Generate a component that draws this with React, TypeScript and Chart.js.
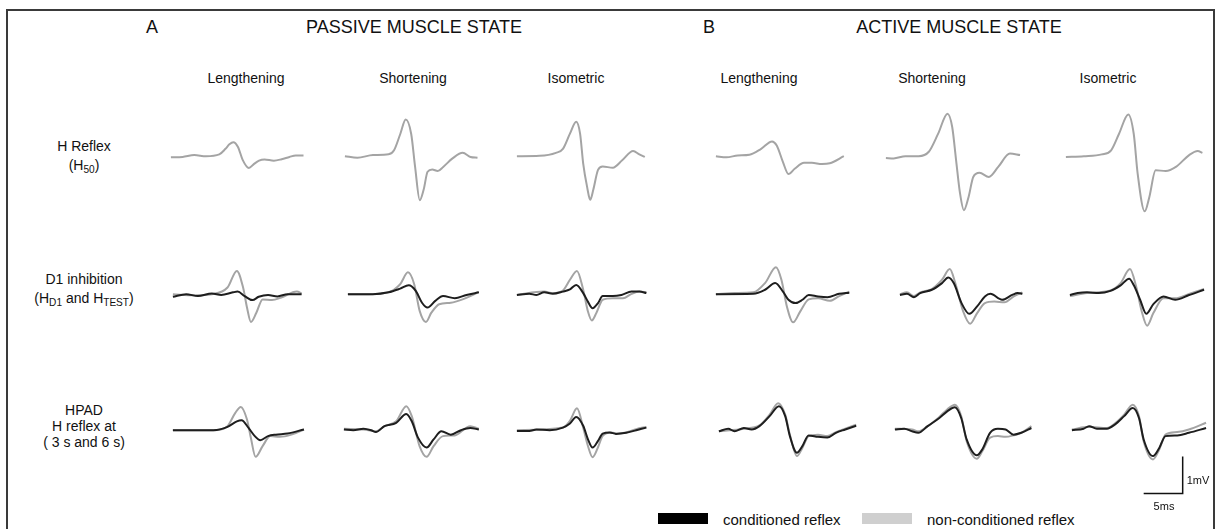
import React, { useEffect, useRef } from "react";
import { Chart, registerables } from "chart.js";

Chart.register(...registerables);

type Pt = [number, number]; // [time ms, amplitude mV]

// ---------- Row 1: H reflex (H50), non-conditioned only ----------
const passiveLengtheningH: Pt[] = [[0,-0.03],[1.5,-0.02],[3,0.03],[4.5,0],[6.2,0.05],[7,0.2],[7.5,0.32],[8,0.38],[8.6,0.25],[9.2,-0.1],[10,-0.32],[10.6,-0.22],[11.3,-0.12],[12,-0.09],[13.2,-0.12],[14.2,-0.08],[15.2,-0.02],[16,0.02],[17,0.02]];
const passiveShorteningH: Pt[] = [[0,0],[1.6,-0.04],[3.6,0.03],[5.6,0.05],[6.3,0.16],[7.1,0.6],[7.8,0.99],[8.5,0.6],[9,-0.29],[9.6,-1.19],[10.1,-0.9],[10.6,-0.42],[11.2,-0.36],[11.9,-0.4],[12.6,-0.29],[13.8,-0.06],[15.1,0.09],[16.1,-0.02],[17,-0.04]];
const passiveIsometricH: Pt[] = [[0,0],[2.9,0.01],[5,0.09],[5.9,0.2],[6.8,0.61],[7.6,0.93],[8.1,0.61],[8.5,-0.2],[9,-0.83],[9.4,-1.18],[9.8,-0.9],[10.4,-0.37],[11,-0.28],[12.3,-0.31],[13.5,-0.11],[14.9,0.14],[15.7,0.05],[16.4,-0.02]];
const activeLengtheningH: Pt[] = [[0,0],[1.35,-0.03],[2.8,0.02],[4.3,0.04],[5.8,0.2],[7.2,0.4],[7.8,0.29],[8.6,-0.16],[9.3,-0.48],[10.1,-0.34],[11.3,-0.18],[12.3,-0.18],[13.6,-0.21],[14.6,-0.19],[16.4,0]];
const activeShorteningH: Pt[] = [[0,-0.05],[1,-0.06],[2.5,0],[4.2,0],[5.5,0.12],[6.7,0.61],[7.9,1.15],[8.5,0.79],[9,-0.11],[9.5,-1.0],[10,-1.46],[10.6,-1.1],[11.2,-0.56],[12,-0.45],[13.2,-0.56],[14.4,-0.29],[15.9,0.07],[17.2,0.03]];
const activeIsometricH: Pt[] = [[0,-0.02],[2.3,0],[4.6,0.05],[5.8,0.16],[6.8,0.6],[8,1.13],[8.7,0.6],[9.2,-0.47],[10.1,-1.49],[10.7,-1.1],[11.5,-0.38],[12.8,-0.4],[14.1,-0.29],[15.8,0.03],[16.9,0.14],[17.5,0.09]];

// ---------- Row 2: D1 inhibition (HD1 conditioned / HTEST non-conditioned) ----------
const passiveLengtheningD1Test: Pt[] = [[0,0],[2.7,-0.03],[5,0],[7,0.18],[8.2,0.63],[9,0.18],[9.5,-0.36],[10,-0.75],[10.7,-0.5],[11.5,-0.14],[12.7,-0.16],[13.9,-0.09],[15.9,0.07],[16.5,0.02]];
const passiveLengtheningD1Cond: Pt[] = [[0,-0.07],[1.7,0],[3.2,-0.05],[5,0.02],[6.2,-0.02],[7.7,0.05],[8.3,0.07],[9.2,-0.05],[10.2,-0.16],[11,-0.07],[12.2,-0.02],[13.4,-0.06],[14.7,0],[16.5,0]];
const passiveShorteningD1Test: Pt[] = [[0,0],[2.7,0],[5.2,0.05],[6.7,0.27],[7.7,0.59],[8.5,0.27],[9.2,-0.45],[10,-0.75],[10.7,-0.5],[11.7,-0.27],[13.2,-0.23],[14.7,-0.14],[16.7,0.05]];
const passiveShorteningD1Cond: Pt[] = [[0,0],[3.2,0],[5.2,0.05],[6.7,0.15],[7.8,0.24],[8.7,0.09],[9.5,-0.23],[10.2,-0.36],[11.2,-0.18],[12.2,-0.05],[13.7,-0.11],[15.2,-0.02],[16.8,0.05]];
const passiveIsometricD1Test: Pt[] = [[0,-0.02],[3.5,0.07],[4.6,0.03],[5.9,0.1],[6.8,0.39],[7.7,0.63],[8.5,0.12],[9.1,-0.46],[9.6,-0.71],[10.2,-0.5],[11,-0.15],[12.3,-0.11],[13.6,-0.11],[14.7,0.01],[15.7,0.07],[16.6,0.05]];
const passiveIsometricD1Cond: Pt[] = [[0,-0.02],[1.6,0.01],[2.5,-0.02],[3.5,0.05],[4.6,0.01],[5.9,0.07],[6.8,0.13],[7.6,0.25],[8.5,0.03],[9.1,-0.2],[9.7,-0.38],[10.4,-0.24],[11,-0.05],[12.3,-0.05],[13.4,-0.02],[14.7,0.07],[15.7,0.07],[16.6,0.03]];
const activeLengtheningD1Test: Pt[] = [[0,0],[2.4,0.03],[4.8,0.05],[6.3,0.3],[7.7,0.73],[8.4,0.39],[9.1,-0.33],[9.9,-0.76],[10.8,-0.47],[11.9,-0.14],[13.1,-0.11],[14.6,-0.18],[15.8,-0.05],[17.1,0.07]];
const activeLengtheningD1Cond: Pt[] = [[0,0],[4.8,0.01],[6.3,0.12],[7.6,0.3],[8.6,0.07],[9.3,-0.15],[10.2,-0.24],[11.1,-0.15],[11.9,-0.02],[13.1,-0.06],[14.3,-0.08],[15.8,0.01],[17.1,0.04]];
const activeShorteningD1Test: Pt[] = [[0,0],[0.9,0.05],[1.8,-0.05],[2.6,0.05],[4.1,0.14],[5.4,0.39],[6.4,0.68],[7.1,0.3],[8.1,-0.46],[9,-0.8],[9.9,-0.51],[10.9,-0.24],[12.1,-0.2],[13.4,-0.22],[14.6,-0.06],[15.7,0.05]];
const activeShorteningD1Cond: Pt[] = [[0,-0.02],[0.9,0.01],[1.8,-0.08],[2.6,0.03],[4.1,0.12],[5.4,0.3],[6.2,0.45],[6.9,0.3],[7.9,-0.24],[8.9,-0.53],[9.9,-0.33],[10.9,-0.06],[11.6,0.01],[13.1,-0.15],[14.4,-0.02],[15.1,0.03],[15.7,0.01]];
const activeIsometricD1Test: Pt[] = [[0,-0.05],[2.2,0.03],[5.2,0.1],[6.5,0.3],[7.7,0.68],[8.5,0.2],[9.2,-0.46],[9.9,-0.85],[10.7,-0.51],[12,-0.11],[13.5,-0.11],[15.2,0],[17.2,0.14]];
const activeIsometricD1Cond: Pt[] = [[0,-0.02],[1,0.03],[2.2,0.05],[3.7,0.03],[5.2,0.09],[6.5,0.24],[7.6,0.42],[8.2,0.24],[9,-0.15],[9.8,-0.53],[10.7,-0.27],[12,-0.06],[13.5,-0.15],[15.2,-0.03],[17.2,0.12]];

// ---------- Row 3: HPAD, H reflex at 3 s (non-conditioned) and 6 s (conditioned) ----------
const passiveLengtheningPadTest: Pt[] = [[0,0],[5.2,0],[7,0.11],[8,0.47],[8.7,0.63],[9.5,0.29],[10,-0.21],[10.6,-0.72],[11.5,-0.43],[12.5,-0.16],[13.7,-0.18],[15.2,-0.12],[16.8,0.02]];
const passiveLengtheningPadCond: Pt[] = [[0,0],[2.7,0],[5.2,0],[7,0.09],[8.2,0.24],[8.8,0.27],[9.7,0.06],[10.5,-0.16],[11.2,-0.27],[12.2,-0.16],[13.2,-0.12],[14.7,-0.09],[16.8,0.02]];
const passiveShorteningPadTest: Pt[] = [[0,0.04],[2.5,0.02],[4.1,-0.03],[5.2,0.11],[6.7,0.24],[8,0.65],[8.7,0.38],[9.7,-0.43],[10.6,-0.72],[11.5,-0.43],[12.7,-0.16],[14.2,-0.14],[16.2,0.11],[17.3,0.04]];
const passiveShorteningPadCond: Pt[] = [[0,0.02],[1.2,0],[2.5,0.04],[3.5,0],[4.1,-0.05],[5.2,0.11],[6.7,0.2],[8,0.44],[8.7,0.24],[9.5,-0.2],[10.6,-0.47],[11.5,-0.25],[12.5,-0.03],[13.7,-0.12],[15,0],[16.2,0.06],[17.3,0.02]];
const passiveIsometricPadTest: Pt[] = [[0,0],[5.9,0.07],[6.8,0.25],[7.7,0.59],[8.5,0.07],[9.1,-0.42],[9.7,-0.73],[10.4,-0.46],[11,-0.15],[12.1,-0.06],[12.9,-0.09],[14,-0.06],[15.3,0.03],[16.6,0.09]];
const passiveIsometricPadCond: Pt[] = [[0,-0.02],[1.6,-0.02],[2.5,0.02],[4.2,0],[5.9,0.07],[6.8,0.18],[7.6,0.36],[8.5,0.12],[9.1,-0.24],[9.7,-0.47],[10.4,-0.29],[11,-0.09],[11.9,-0.06],[12.7,-0.1],[14,-0.07],[15.3,0],[16.6,0.07]];
const activeLengtheningPadTest: Pt[] = [[0,-0.03],[3.2,0.04],[5.2,0.13],[6.5,0.42],[7.6,0.73],[8.5,0.42],[9.1,-0.12],[10,-0.7],[10.7,-0.48],[11.5,-0.16],[12.7,-0.12],[13.9,-0.16],[15,-0.05],[16.2,0.04],[17.6,0.15]];
const activeLengtheningPadCond: Pt[] = [[0,-0.03],[1.2,0.04],[2,-0.03],[3.2,0.06],[4.2,0.02],[5.2,0.11],[6.5,0.38],[7.7,0.65],[8.5,0.38],[9.1,-0.16],[10,-0.61],[10.7,-0.43],[11.5,-0.14],[12.7,-0.18],[13.9,-0.2],[15,-0.07],[16.2,0.02],[17.6,0.12]];
const activeShorteningPadTest: Pt[] = [[0,0.04],[2.2,0.02],[3,-0.03],[4.2,0.11],[5.7,0.36],[6.7,0.56],[7.7,0.69],[8.5,0.38],[9.2,-0.3],[10.5,-0.77],[11.2,-0.57],[12.2,-0.2],[13.2,-0.16],[14.2,-0.18],[15.2,-0.14],[16.2,-0.07],[17.5,0.11]];
const activeShorteningPadCond: Pt[] = [[0,0.02],[1.2,0.04],[2.2,-0.03],[3,-0.07],[4.2,0.11],[5.7,0.33],[6.7,0.51],[7.7,0.62],[8.5,0.33],[9.2,-0.25],[10.5,-0.68],[11.2,-0.52],[12.2,-0.07],[13.2,0.04],[14.2,0.02],[15.2,-0.12],[16.2,-0.07],[17.5,0.06]];
const activeIsometricPadTest: Pt[] = [[0,0.02],[2.2,0.09],[4.5,0.06],[5.5,0.18],[6.7,0.42],[7.8,0.69],[8.6,0.38],[9.2,-0.3],[10.4,-0.79],[11.2,-0.52],[12,-0.12],[13.5,-0.05],[15,0.02],[17.2,0.2]];
const activeIsometricPadCond: Pt[] = [[0,0],[1.5,0.04],[2.2,0.11],[3.2,0.04],[4.5,0.04],[5.5,0.15],[6.7,0.38],[7.8,0.6],[8.6,0.33],[9.2,-0.25],[10.4,-0.7],[11.2,-0.48],[12,-0.16],[13.5,-0.14],[15,-0.07],[17.2,0.06]];

// ---------- Labels ----------
const stateTitles = ["PASSIVE MUSCLE STATE", "ACTIVE MUSCLE STATE"];
const panelLetters = ["A", "B"];
const conditionLabels = ["Lengthening", "Shortening", "Isometric"];
const legendLabels = ["conditioned reflex", "non-conditioned reflex"];
const scaleBarMs = 5;
const scaleBarMv = 1;

// ---------- Styling / layout ----------
const PX_PER_MS = 7.8;
const PX_PER_MV = 37;
const COND_COLOR = "#1e1e1e";
const TEST_COLOR = "#a4a4a4";
const FONT = "'Liberation Sans', Arial, Helvetica, sans-serif";

type Series = { data: Pt[]; color: string };
type PanelDef = { left: number; series: Series[] };

const S = (cond: Pt[] | null, test: Pt[]): Series[] =>
  cond ? [{ data: cond, color: COND_COLOR }, { data: test, color: TEST_COLOR }] : [{ data: test, color: TEST_COLOR }];

const rows: { baseline: number; panels: PanelDef[] }[] = [
  {
    baseline: 156,
    panels: [
      { left: 171, series: S(null, passiveLengtheningH) },
      { left: 345, series: S(null, passiveShorteningH) },
      { left: 517, series: S(null, passiveIsometricH) },
      { left: 716, series: S(null, activeLengtheningH) },
      { left: 886, series: S(null, activeShorteningH) },
      { left: 1066, series: S(null, activeIsometricH) },
    ],
  },
  {
    baseline: 294,
    panels: [
      { left: 173, series: S(passiveLengtheningD1Cond, passiveLengtheningD1Test) },
      { left: 348, series: S(passiveShorteningD1Cond, passiveShorteningD1Test) },
      { left: 517, series: S(passiveIsometricD1Cond, passiveIsometricD1Test) },
      { left: 716, series: S(activeLengtheningD1Cond, activeLengtheningD1Test) },
      { left: 900, series: S(activeShorteningD1Cond, activeShorteningD1Test) },
      { left: 1070, series: S(activeIsometricD1Cond, activeIsometricD1Test) },
    ],
  },
  {
    baseline: 430,
    panels: [
      { left: 173, series: S(passiveLengtheningPadCond, passiveLengtheningPadTest) },
      { left: 344, series: S(passiveShorteningPadCond, passiveShorteningPadTest) },
      { left: 517, series: S(passiveIsometricPadCond, passiveIsometricPadTest) },
      { left: 719, series: S(activeLengtheningPadCond, activeLengtheningPadTest) },
      { left: 895, series: S(activeShorteningPadCond, activeShorteningPadTest) },
      { left: 1072, series: S(activeIsometricPadCond, activeIsometricPadTest) },
    ],
  },
];

const W = 146;
const H = 124;
const X_MIN = -0.5;
const Y_MAX = 1.6;

function Trace({ left, baseline, series }: { left: number; baseline: number; series: Series[] }) {
  const ref = useRef<HTMLCanvasElement>(null);
  useEffect(() => {
    if (!ref.current) return;
    const chart = new Chart(ref.current, {
      type: "line",
      data: {
        datasets: series.map((s) => ({
          data: s.data.map(([x, y]) => ({ x, y })),
          borderColor: s.color,
          borderWidth: 2,
          pointRadius: 0,
          fill: false,
          cubicInterpolationMode: "monotone" as const,
        })),
      },
      options: {
        responsive: false,
        animation: false,
        events: [],
        layout: { padding: 0 },
        plugins: { legend: { display: false }, tooltip: { enabled: false } },
        scales: {
          x: { type: "linear", min: X_MIN, max: X_MIN + W / PX_PER_MS, display: false },
          y: { type: "linear", min: Y_MAX - H / PX_PER_MV, max: Y_MAX, display: false },
        },
      },
    });
    return () => chart.destroy();
  }, []);
  return (
    <canvas
      ref={ref}
      width={W}
      height={H}
      style={{
        position: "absolute",
        left: left + X_MIN * PX_PER_MS,
        top: baseline - Y_MAX * PX_PER_MV,
        width: W,
        height: H,
      }}
    />
  );
}

function ScaleBar() {
  const ref = useRef<HTMLCanvasElement>(null);
  const w = 52, h = 50, xMin = -0.6, yMin = -0.2;
  useEffect(() => {
    if (!ref.current) return;
    const chart = new Chart(ref.current, {
      type: "line",
      data: {
        datasets: [
          {
            data: [
              { x: 0, y: 0 },
              { x: scaleBarMs, y: 0 },
              { x: scaleBarMs, y: scaleBarMv },
            ],
            borderColor: "#111",
            borderWidth: 1.5,
            pointRadius: 0,
            tension: 0,
          },
        ],
      },
      options: {
        responsive: false,
        animation: false,
        events: [],
        plugins: { legend: { display: false }, tooltip: { enabled: false } },
        scales: {
          x: { type: "linear", min: xMin, max: xMin + w / PX_PER_MS, display: false },
          y: { type: "linear", min: yMin, max: yMin + h / PX_PER_MV, display: false },
        },
      },
    });
    return () => chart.destroy();
  }, []);
  return (
    <canvas
      ref={ref}
      width={w}
      height={h}
      style={{ position: "absolute", left: 1144 + xMin * PX_PER_MS, top: 494 - (h + yMin * PX_PER_MV), width: w, height: h }}
    />
  );
}

const txt = (x: number, y: number, size: number, extra: React.CSSProperties = {}): React.CSSProperties => ({
  position: "absolute",
  left: x,
  top: y,
  transform: "translate(-50%, -50%)",
  fontFamily: FONT,
  fontSize: size,
  color: "#111",
  whiteSpace: "nowrap",
  textAlign: "center",
  lineHeight: 1,
  ...extra,
});

const subStyle: React.CSSProperties = { fontSize: "0.72em", verticalAlign: "-0.25em" };

export default function App() {
  const colCentersA = [246, 413, 576];
  const colCentersB = [759, 932, 1108];
  return (
    <div style={{ position: "absolute", left: 0, top: 0, width: 1216, height: 529, background: "#fff", overflow: "hidden" }}>
      <div style={{ position: "absolute", left: 6, top: 9, width: 1205, height: 560, border: "2px solid #3a3a3a" }} />

      <div style={txt(152, 27, 18)}>{panelLetters[0]}</div>
      <div style={txt(414, 27, 18)}>{stateTitles[0]}</div>
      <div style={txt(709, 27, 18)}>{panelLetters[1]}</div>
      <div style={txt(959, 27, 18)}>{stateTitles[1]}</div>

      {colCentersA.map((c, i) => (
        <div key={"a" + i} style={txt(c, 78, 14)}>{conditionLabels[i]}</div>
      ))}
      {colCentersB.map((c, i) => (
        <div key={"b" + i} style={txt(c, 78, 14)}>{conditionLabels[i]}</div>
      ))}

      <div style={txt(84, 158, 14, { lineHeight: "19px" })}>
        H Reflex<br />(H<span style={subStyle}>50</span>)
      </div>
      <div style={txt(84, 291, 14, { lineHeight: "19px" })}>
        D1 inhibition<br />(H<span style={subStyle}>D1</span> and H<span style={subStyle}>TEST</span>)
      </div>
      <div style={txt(84, 426, 14, { lineHeight: "16px" })}>
        HPAD<br />H reflex at<br />( 3 s and 6 s)
      </div>

      {rows.map((r, ri) =>
        r.panels.map((p, pi) => <Trace key={ri + "-" + pi} left={p.left} baseline={r.baseline} series={p.series} />)
      )}

      <ScaleBar />
      <div style={txt(1198, 480, 11)}>{scaleBarMv}mV</div>
      <div style={txt(1164, 506, 11)}>{scaleBarMs}ms</div>

      <div style={{ position: "absolute", left: 658, top: 513, width: 50, height: 11, background: "#000" }} />
      <div style={{ ...txt(723, 519, 15), transform: "translate(0, -50%)" }}>{legendLabels[0]}</div>
      <div style={{ position: "absolute", left: 862, top: 513, width: 50, height: 11, background: "#cfcfcf" }} />
      <div style={{ ...txt(927, 519, 15), transform: "translate(0, -50%)" }}>{legendLabels[1]}</div>
    </div>
  );
}
